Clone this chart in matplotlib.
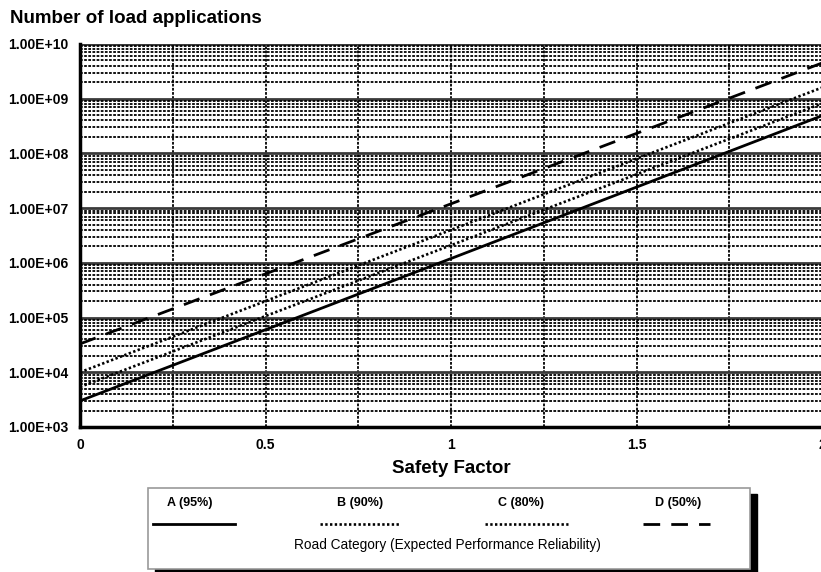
import matplotlib
matplotlib.use("Agg")
import matplotlib.pyplot as plt
from matplotlib.ticker import FuncFormatter, LogLocator, MultipleLocator
from matplotlib.patches import Rectangle
from matplotlib.lines import Line2D

plt.rcParams['font.family'] = ['Liberation Sans', 'DejaVu Sans']

# valores (fator de seguranca x numero de aplicacoes)
safety_factor = [0.0, 1.0, 2.0]
n_a = [3.0e3, 1.2e6, 4.9e8]
n_b = [5.4e3, 2.1e6, 8.2e8]
n_c = [1.0e4, 4.0e6, 1.6e9]
n_d = [3.3e4, 1.2e7, 4.5e9]
labels = ["A (95%)", "B (90%)", "C (80%)", "D (50%)"]

fig = plt.figure(figsize=(8.21, 5.72), dpi=100)
ax = fig.add_axes([0.0974, 0.2535, 0.904, 0.6696])

dot = (0, (0.9, 0.9))
styles = [
    dict(color="black", lw=2.0, ls="-"),
    dict(color="black", lw=1.9, ls=dot),
    dict(color="black", lw=1.9, ls=dot),
    dict(color="black", lw=2.0, ls=(0, (6, 4))),
]
series = [n_a, n_b, n_c, n_d]
for ys, st in zip(series, styles):
    ax.plot(safety_factor, ys, zorder=5, **st)

ax.set_yscale("log")
ax.set_ylim(1e3, 1e10)
ax.set_xlim(0, 2)

ax.yaxis.set_major_locator(LogLocator(base=10, numticks=20))
ax.yaxis.set_minor_locator(LogLocator(base=10, subs=[2, 3, 4, 5, 6, 7, 8, 9], numticks=100))
ax.yaxis.set_major_formatter(FuncFormatter(lambda v, p: f"{v:.2E}"))
ax.yaxis.set_minor_formatter(FuncFormatter(lambda v, p: ""))
ax.xaxis.set_major_locator(MultipleLocator(0.5))
ax.xaxis.set_minor_locator(MultipleLocator(0.25))
ax.xaxis.set_major_formatter(FuncFormatter(lambda v, p: f"{v:g}"))

ax.grid(True, which="major", axis="y", color="#3a3a3a", lw=2.0, ls="-")
ax.grid(True, which="minor", axis="y", color="black", lw=1.3, ls=(0, (1.5, 0.8)))
ax.grid(True, which="both", axis="x", color="black", lw=1.3, ls=(0, (1.5, 0.8)))
ax.set_axisbelow(True)

ax.tick_params(axis="both", which="both", length=0, labelsize=10)
ax.tick_params(axis="y", pad=8)
ax.tick_params(axis="x", pad=8)
for lab in ax.get_xticklabels() + ax.get_yticklabels():
    lab.set_fontweight("bold")

for s in ["left", "bottom"]:
    ax.spines[s].set_linewidth(2.5)
    ax.spines[s].set_color("black")
ax.spines["right"].set_visible(False)
ax.spines["top"].set_visible(False)

ax.set_xlabel("Safety Factor", fontsize=13.5, fontweight="bold", labelpad=6)
fig.text(0.012, 0.968, "Number of load applications", fontsize=13.5,
         fontweight="bold", va="center", ha="left")

# legenda desenhada a mao (rotulos acima das linhas)
lg = fig.add_axes([0.180, 0.005, 0.7335, 0.142])
lg.set_xlim(0, 1)
lg.set_ylim(0, 1)
lg.axis("off")
lg.add_patch(Rectangle((0.012, -0.1), 1.0, 1.03, color="black", clip_on=False, zorder=1))
lg.add_patch(Rectangle((0, 0), 1.0, 1.0, facecolor="white", edgecolor="#9a9a9a",
                       lw=1.2, clip_on=False, zorder=2))
text_x = [0.070, 0.352, 0.620, 0.880]
line_x = [(0.008, 0.145), (0.286, 0.419), (0.560, 0.698), (0.822, 0.934)]
for lab, tx, (x0, x1), st in zip(labels, text_x, line_x, styles):
    lg.text(tx, 0.815, lab, ha="center", va="center", fontsize=9, fontweight="bold", zorder=3)
    lg.add_line(Line2D([x0, x1], [0.556, 0.556], zorder=3, **st))
lg.text(0.498, 0.296, "Road Category (Expected Performance Reliability)",
        ha="center", va="center", fontsize=9.8, zorder=3)

fig.savefig("out.png", dpi=100)
